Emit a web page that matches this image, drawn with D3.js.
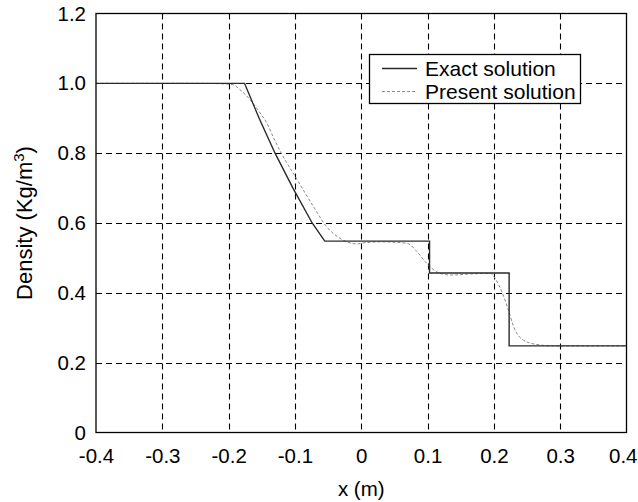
<!DOCTYPE html>
<html>
<head>
<meta charset="utf-8">
<script src="https://cdn.jsdelivr.net/npm/d3@7"></script>
<style>
html,body{margin:0;padding:0;background:#fff;}
svg{display:block;font-family:"Liberation Sans",Arial,sans-serif;}
</style>
</head>
<body>
<svg id="chart" width="638" height="502"></svg>
<script>
// Data
const xTicks = [-0.4, -0.3, -0.2, -0.1, 0, 0.1, 0.2, 0.3, 0.4];
const xTickLabels = ["-0.4", "-0.3", "-0.2", "-0.1", "0", "0.1", "0.2", "0.3", "0.4"];
const yTicks = [0, 0.2, 0.4, 0.6, 0.8, 1.0, 1.2];
const yTickLabels = ["0", "0.2", "0.4", "0.6", "0.8", "1.0", "1.2"];

const exactX = [-0.4, -0.176, -0.154, -0.130, -0.103, -0.074, -0.055, 0.103, 0.103, 0.223, 0.223, 0.4];
const exactY = [1.0, 1.0, 0.9, 0.8, 0.7, 0.6, 0.548, 0.548, 0.457, 0.457, 0.248, 0.248];

const presentX = [-0.4, -0.25, -0.213, -0.193, -0.183, -0.1676, -0.1525, -0.142, -0.1324, -0.122, -0.097, -0.072, -0.052, -0.032, -0.0065, 0.0035, 0.029, 0.069, 0.084, 0.099, 0.114, 0.134, 0.1645, 0.195, 0.202, 0.212, 0.222, 0.230, 0.245, 0.265, 0.29, 0.4];
const presentY = [1.0, 1.0, 0.999, 0.996, 0.982, 0.953, 0.915, 0.885, 0.845, 0.805, 0.725, 0.647, 0.589, 0.556, 0.540, 0.543, 0.546, 0.542, 0.518, 0.484, 0.46, 0.451, 0.454, 0.456, 0.441, 0.403, 0.350, 0.302, 0.264, 0.252, 0.248, 0.248];

const seriesNames = ["Exact solution", "Present solution"];

const svg = d3.select("#chart");
const m = {left: 96, top: 13.5, right: 626.5, bottom: 432.5};
const x = d3.scaleLinear().domain([-0.4, 0.4]).range([m.left, m.right]);
const y = d3.scaleLinear().domain([0, 1.2]).range([m.bottom, m.top]);

// grid
const g = svg.append("g");
g.selectAll(".vg").data(xTicks.slice(1, -1)).enter().append("line")
  .attr("x1", d => Math.round(x(d)) + 0.5).attr("x2", d => Math.round(x(d)) + 0.5)
  .attr("y1", m.top).attr("y2", m.bottom)
  .attr("stroke", "#000").attr("stroke-width", 1.1).attr("stroke-dasharray", "6,4");
g.selectAll(".hg").data(yTicks.slice(1, -1)).enter().append("line")
  .attr("y1", d => Math.round(y(d)) + 0.5).attr("y2", d => Math.round(y(d)) + 0.5)
  .attr("x1", m.left).attr("x2", m.right)
  .attr("stroke", "#000").attr("stroke-width", 1.1).attr("stroke-dasharray", "6,4");

// axes via d3
const xAxis = d3.axisBottom(x).tickValues(xTicks).tickFormat((d, i) => xTickLabels[i]).tickSize(0).tickPadding(16);
const yAxis = d3.axisLeft(y).tickValues(yTicks).tickFormat((d, i) => yTickLabels[i]).tickSize(0).tickPadding(10);
const gx = svg.append("g").attr("transform", `translate(0,${m.bottom})`).call(xAxis);
const gy = svg.append("g").attr("transform", `translate(${m.left},0)`).call(yAxis);
[gx, gy].forEach(a => {
  a.select(".domain").remove();
  a.selectAll("text").attr("font-size", 20.5).attr("fill", "#000").attr("font-family", "Liberation Sans, Arial, sans-serif");
});
gx.selectAll("text").attr("dy", "0.72em");
// last x tick label kept inside the picture, as in the reference
gx.selectAll(".tick").filter(d => d === 0.4).select("text")
  .attr("text-anchor", "end").attr("x", 637 - x(0.4));

// lines
const lineExact = d3.line().x(d => x(d[0])).y(d => y(d[1]));
const linePresent = d3.line().x(d => x(d[0])).y(d => y(d[1])).curve(d3.curveMonotoneX);
const exactData = exactX.map((v, i) => [v, exactY[i]]);
const presentData = presentX.map((v, i) => [v, presentY[i]]);

svg.append("path").datum(presentData).attr("d", linePresent)
  .attr("fill", "none").attr("stroke", "#8a8a8a").attr("stroke-width", 1).attr("stroke-dasharray", "3,2");
svg.append("path").datum(exactData).attr("d", lineExact)
  .attr("fill", "none").attr("stroke", "#2a2a2a").attr("stroke-width", 1.4);

// frame
svg.append("rect").attr("x", m.left).attr("y", m.top)
  .attr("width", m.right - m.left).attr("height", m.bottom - m.top)
  .attr("fill", "none").attr("stroke", "#000").attr("stroke-width", 1.3);

// legend
const lg = svg.append("g");
lg.append("rect").attr("x", 369.5).attr("y", 54.5).attr("width", 211).attr("height", 49)
  .attr("fill", "#fff").attr("stroke", "#000").attr("stroke-width", 1.3);
lg.append("line").attr("x1", 382).attr("x2", 417).attr("y1", 68.5).attr("y2", 68.5)
  .attr("stroke", "#2a2a2a").attr("stroke-width", 1.3);
lg.append("line").attr("x1", 382).attr("x2", 417).attr("y1", 91.5).attr("y2", 91.5)
  .attr("stroke", "#8a8a8a").attr("stroke-width", 1).attr("stroke-dasharray", "3,2");
lg.selectAll("text").data(seriesNames).enter().append("text")
  .attr("x", 425).attr("y", (d, i) => 68 + i * 23).attr("dy", "0.36em")
  .attr("font-size", 21).attr("fill", "#000").text(d => d);

// axis titles
svg.append("text").attr("x", (m.left + m.right) / 2).attr("y", 496)
  .attr("text-anchor", "middle").attr("font-size", 20.5).text("x (m)");
const yl = svg.append("text").attr("transform", `translate(32,${(m.top + m.bottom) / 2}) rotate(-90)`)
  .attr("text-anchor", "middle").attr("font-size", 22);
yl.append("tspan").text("Density (Kg/m");
yl.append("tspan").attr("baseline-shift", "super").attr("font-size", 15).text("3");
yl.append("tspan").text(")");
</script>
</body>
</html>
